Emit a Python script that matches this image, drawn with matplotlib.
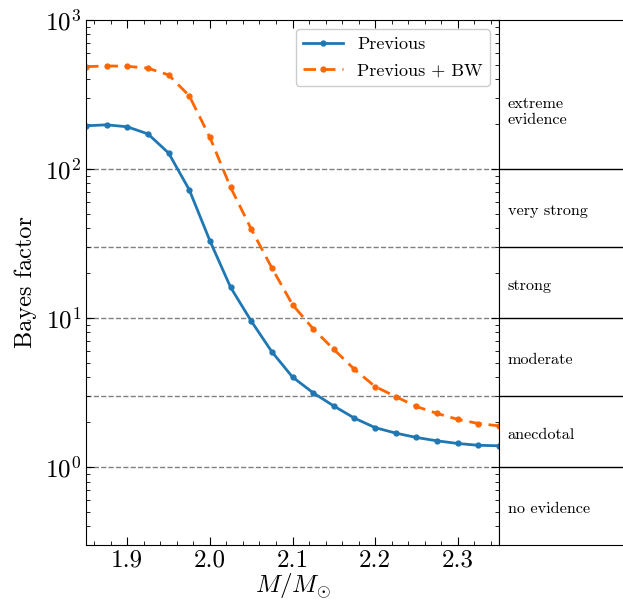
import matplotlib
matplotlib.use("Agg")
import matplotlib.pyplot as plt
import numpy as np

plt.rcParams['font.family'] = 'serif'
plt.rcParams['font.serif'] = ['cmr10', 'DejaVu Serif']
plt.rcParams['mathtext.fontset'] = 'cm'
plt.rcParams['axes.formatter.use_mathtext'] = True
plt.rcParams['axes.unicode_minus'] = False

mass = [1.85, 1.875, 1.9, 1.925, 1.95, 1.975, 2.0, 2.025, 2.05, 2.075, 2.1,
        2.125, 2.15, 2.175, 2.2, 2.225, 2.25, 2.275, 2.3, 2.325, 2.35]
bf_previous = [195, 198, 192, 172, 128, 72.6, 33.0, 16.1, 9.55, 5.94, 4.02,
               3.15, 2.57, 2.13, 1.84, 1.69, 1.58, 1.50, 1.44, 1.40, 1.39]
bf_previous_bw = [486, 492, 489, 475, 428, 310, 163, 75.4, 39.6, 21.7, 12.3,
                  8.47, 6.16, 4.53, 3.47, 2.97, 2.55, 2.29, 2.09, 1.96, 1.89]
labels = ["Previous", "Previous + BW"]
thresholds = [1, 3, 10, 30, 100]
evidence = ["no evidence", "anecdotal", "moderate", "strong", "very strong",
            "extreme\nevidence"]
label_pos = [0.52, 1.65, 5.2, 16.4, 52, 240]

fig = plt.figure(figsize=(6.23, 6.12), dpi=100)
ax = fig.add_axes([86/623, 1-545/612, (499-86)/623, (545-20)/612])
ax.plot(mass, bf_previous, '-o', color='#1f77b4', lw=2, ms=3.5, label=labels[0])
ax.plot(mass, bf_previous_bw, '--o', color='#ff6600', lw=2, ms=3.5,
        label=labels[1], dashes=(4.5, 2.5))
for t in thresholds:
    ax.axhline(t, color='0.5', ls='--', lw=1, zorder=0)
ax.set_yscale('log')
ax.set_xlim(1.85, 2.35)
ax.set_ylim(0.3, 1000)
ax.set_xticks([1.9, 2.0, 2.1, 2.2, 2.3])
ax.set_xticklabels(['1.9', '2.0', '2.1', '2.2', '2.3'])
ax.xaxis.set_minor_locator(matplotlib.ticker.MultipleLocator(0.02))
ax.tick_params(which='both', direction='in', top=True, right=True, labelsize=18)
ax.tick_params(which='major', length=6)
ax.tick_params(which='minor', length=3)
ax.set_xlabel(r'$M/M_{\odot}$', fontsize=18, labelpad=0)
ax.set_ylabel('Bayes factor', fontsize=17.5, labelpad=6)
ax.legend(loc='upper right', fontsize=13, framealpha=1, edgecolor='0.8',
          handlelength=2.2, labelspacing=0.6)

ax2 = fig.add_axes([499/623, 1-545/612, (623-499)/623, (545-20)/612])
ax2.set_yscale('log')
ax2.set_ylim(0.3, 1000)
ax2.set_xlim(0, 1)
ax2.spines['right'].set_visible(False)
ax2.set_xticks([])
ax2.set_yticks([])
ax2.yaxis.set_minor_locator(matplotlib.ticker.NullLocator())
for t in thresholds:
    ax2.axhline(t, color='black', lw=1)
for name, yp in zip(evidence, label_pos):
    ax2.text(0.07, yp, name, va='center', ha='left', fontsize=11.7)

fig.savefig('out.png', dpi=100)
